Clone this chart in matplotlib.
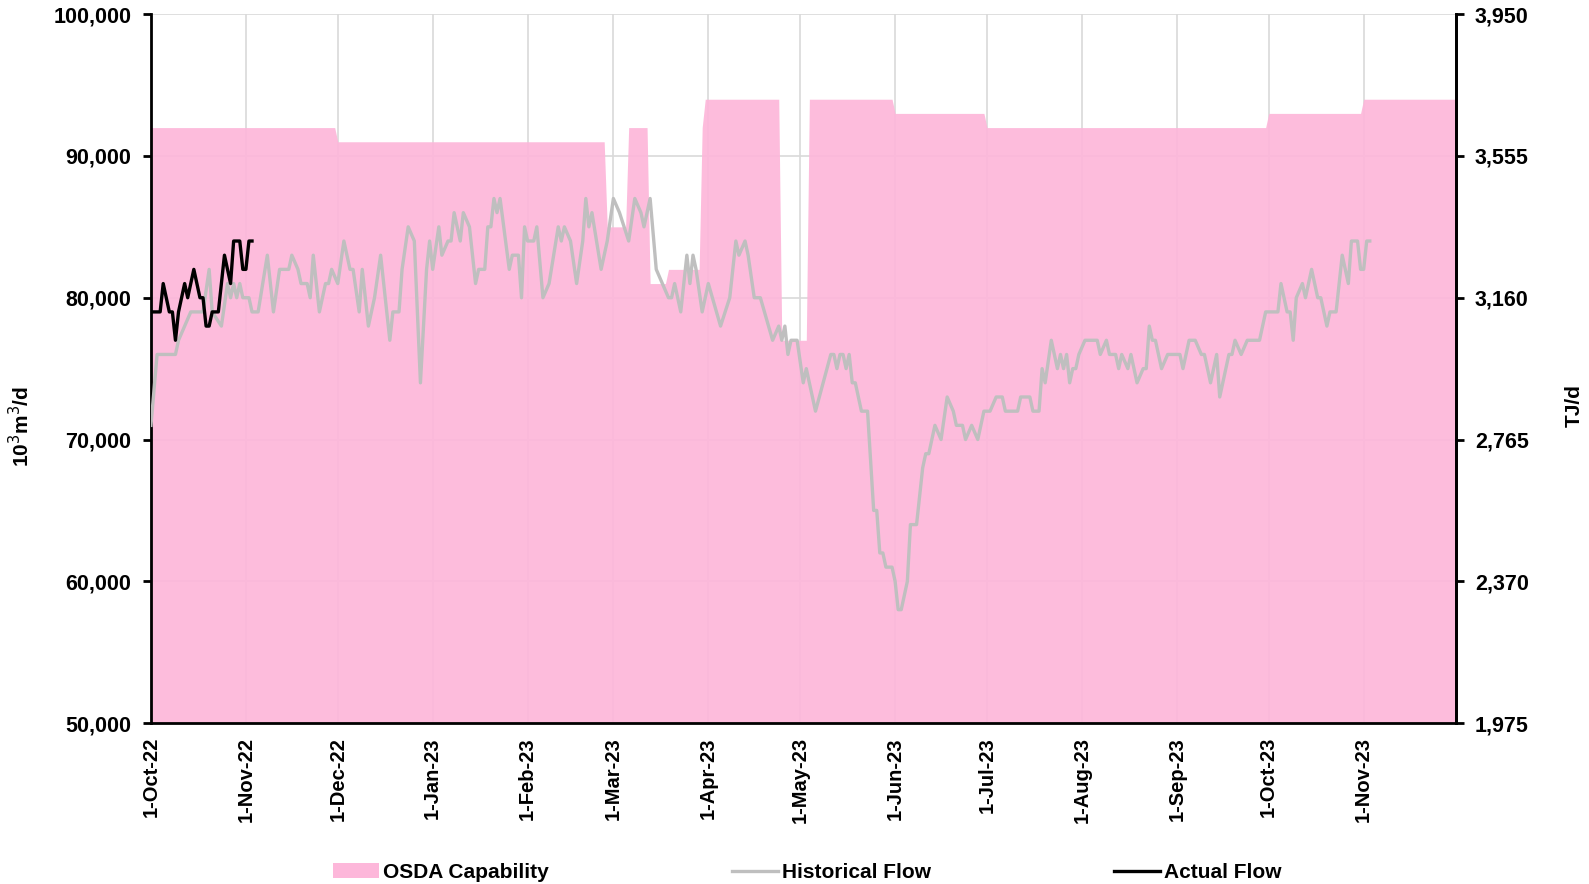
import numpy as np
import pandas as pd
import matplotlib
matplotlib.use("Agg")
import matplotlib.pyplot as plt
import matplotlib.dates as mdates
from matplotlib.ticker import FuncFormatter
from matplotlib.patches import Patch
from matplotlib.lines import Line2D

# day 0 = 1-Oct-22
start = pd.Timestamp("2022-10-01")
end = pd.Timestamp("2023-12-01")

# OSDA capability (10^3 m3/d), value holds from start day until next start day
cap_start_days = [0, 61, 149, 156, 163, 169, 180, 181, 206, 215, 243, 273, 365, 396]
cap_values = [92000, 91000, 85000, 92000, 81000, 82000, 92000, 94000, 77000,
              94000, 93000, 92000, 93000, 94000]

# historical flow, (day, 10^3 m3/d)
hist_oct_dec22 = [(0, 71000), (2, 76000), (8, 76000), (9, 77000), (11, 78000), (13, 79000),
                  (17, 79000), (19, 82000), (20, 79000), (23, 78000), (25, 81000), (26, 80000),
                  (27, 81000), (28, 80000), (29, 81000), (30, 80000), (32, 80000), (33, 79000),
                  (35, 79000), (38, 83000), (40, 79000), (42, 82000), (45, 82000), (46, 83000),
                  (48, 82000), (49, 81000), (51, 81000), (52, 80000), (53, 83000), (55, 79000),
                  (57, 81000), (58, 81000), (59, 82000), (61, 81000), (63, 84000), (65, 82000),
                  (66, 82000), (68, 79000), (69, 82000), (71, 78000), (73, 80000), (75, 83000),
                  (78, 77000), (79, 79000), (81, 79000), (82, 82000), (84, 85000), (86, 84000),
                  (88, 74000), (90, 82000), (91, 84000)]
hist_jan_mar23 = [(92, 82000), (94, 85000), (95, 83000), (97, 84000), (98, 84000), (99, 86000),
                  (101, 84000), (102, 86000), (104, 85000), (106, 81000), (107, 82000),
                  (109, 82000), (110, 85000), (111, 85000), (112, 87000), (113, 86000),
                  (114, 87000), (117, 82000), (118, 83000), (120, 83000), (121, 80000),
                  (122, 85000), (123, 84000), (125, 84000), (126, 85000), (128, 80000),
                  (130, 81000), (133, 85000), (134, 84000), (135, 85000), (137, 84000),
                  (139, 81000), (141, 84000), (142, 87000), (143, 85000), (144, 86000),
                  (147, 82000), (149, 84000), (151, 87000), (153, 86000), (156, 84000),
                  (158, 87000), (160, 86000), (161, 85000), (163, 87000), (165, 82000),
                  (167, 81000), (169, 80000), (170, 80000), (171, 81000), (173, 79000),
                  (175, 83000), (176, 81000), (177, 83000), (178, 82000), (180, 79000)]
hist_apr_jun23 = [(182, 81000), (186, 78000), (189, 80000), (191, 84000), (192, 83000),
                  (194, 84000), (195, 83000), (197, 80000), (199, 80000), (203, 77000),
                  (205, 78000), (206, 77000), (207, 78000), (208, 76000), (209, 77000),
                  (211, 77000), (213, 74000), (214, 75000), (217, 72000), (222, 76000),
                  (223, 76000), (224, 75000), (225, 76000), (226, 76000), (227, 75000),
                  (228, 76000), (229, 74000), (230, 74000), (232, 72000), (234, 72000),
                  (236, 65000), (237, 65000), (238, 62000), (239, 62000), (240, 61000),
                  (242, 61000), (243, 60000), (244, 58000), (245, 58000), (247, 60000),
                  (248, 64000), (250, 64000), (252, 68000), (253, 69000), (254, 69000),
                  (256, 71000), (258, 70000), (260, 73000), (262, 72000), (263, 71000),
                  (265, 71000), (266, 70000), (268, 71000), (270, 70000), (272, 72000)]
hist_jul_nov23 = [(274, 72000), (276, 73000), (278, 73000), (279, 72000), (283, 72000),
                  (284, 73000), (287, 73000), (288, 72000), (290, 72000), (291, 75000),
                  (292, 74000), (294, 77000), (296, 75000), (297, 76000), (298, 75000),
                  (299, 76000), (300, 74000), (301, 75000), (302, 75000), (303, 76000),
                  (305, 77000), (309, 77000), (310, 76000), (312, 77000), (313, 76000),
                  (315, 76000), (316, 75000), (317, 76000), (319, 75000), (320, 76000),
                  (322, 74000), (324, 75000), (325, 75000), (326, 78000), (327, 77000),
                  (328, 77000), (330, 75000), (332, 76000), (336, 76000), (337, 75000),
                  (339, 77000), (341, 77000), (343, 76000), (344, 76000), (345, 75000),
                  (346, 74000), (348, 76000), (349, 73000), (352, 76000), (353, 76000),
                  (354, 77000), (356, 76000), (358, 77000), (362, 77000), (364, 79000),
                  (368, 79000), (369, 81000), (371, 79000), (372, 79000), (373, 77000),
                  (374, 80000), (376, 81000), (377, 80000), (379, 82000), (381, 80000),
                  (382, 80000), (384, 78000), (385, 79000), (387, 79000), (389, 83000),
                  (391, 81000), (392, 84000), (394, 84000), (395, 82000), (396, 82000),
                  (397, 84000), (398, 84000)]

# actual flow
actual_days = [0, 3, 4, 5, 6, 7, 8, 9, 10, 11, 12, 14, 15, 16, 17, 18, 19, 20, 22, 24,
               26, 27, 29, 30, 31, 32, 33]
actual_flow = [79000, 79000, 81000, 80000, 79000, 79000, 77000, 79000, 80000, 81000, 80000,
               82000, 81000, 80000, 80000, 78000, 78000, 79000, 79000, 83000, 81000, 84000,
               84000, 82000, 82000, 84000, 84000]

left_ticks = [50000, 60000, 70000, 80000, 90000, 100000]
right_ticks = [1975, 2370, 2765, 3160, 3555, 3950]

PINK = "#FDB7DA"
GREY = "#BFBFBF"
GRID = "#D9D9D9"
FONT = ["Liberation Sans", "DejaVu Sans"]


def to_dates(days):
    return start + pd.to_timedelta(np.asarray(days), unit="D")


fig = plt.figure(figsize=(15.89, 8.84), dpi=100)
ax = fig.add_axes([0.095, 0.182, 0.821, 0.802])

# capability expanded to daily values
cap_days = np.arange(0, (end - start).days + 1)
idx = np.searchsorted(cap_start_days, cap_days, side="right") - 1
cap_daily = np.array(cap_values)[idx]
ax.fill_between(to_dates(cap_days), 50000, cap_daily, color=PINK, alpha=0.93,
                linewidth=0, zorder=2)

hist = hist_oct_dec22 + hist_jan_mar23 + hist_apr_jun23 + hist_jul_nov23
hd, hv = zip(*hist)
ax.plot(to_dates(hd), hv, color=GREY, lw=2.4, zorder=3, solid_joinstyle="round")
ax.plot(to_dates(actual_days), actual_flow, color="black", lw=2.4, zorder=4,
        solid_joinstyle="round")

ax.set_xlim(start, end)
ax.set_ylim(50000, 100000)
ax.set_yticks(left_ticks)
ax.yaxis.set_major_formatter(FuncFormatter(lambda v, p: f"{int(v):,}"))

months = pd.date_range("2022-10-01", "2023-11-01", freq="MS")
ax.set_xticks(months)
ax.xaxis.set_major_formatter(FuncFormatter(
    lambda v, p: f"{mdates.num2date(v).day}-{mdates.num2date(v).strftime('%b-%y')}"))

ax.grid(True, color=GRID, lw=1.2, zorder=0)
ax.set_axisbelow(True)

for s in ["left", "bottom", "right"]:
    ax.spines[s].set_linewidth(2)
    ax.spines[s].set_color("black")
ax.spines["top"].set_visible(False)

ax.tick_params(axis="y", direction="out", length=6, width=2, pad=8)
ax.tick_params(axis="x", length=0, pad=10)
for lab in ax.get_yticklabels():
    lab.set_family(FONT)
    lab.set_fontweight("bold")
    lab.set_fontsize(15.5)
for lab in ax.get_xticklabels():
    lab.set_family(FONT)
    lab.set_fontweight("bold")
    lab.set_fontsize(14.5)
    lab.set_rotation(90)
    lab.set_va("top")

ax2 = ax.twinx()
ax2.set_ylim(1975, 3950)
ax2.set_yticks(right_ticks)
ax2.yaxis.set_major_formatter(FuncFormatter(lambda v, p: f"{int(v):,}"))
ax2.tick_params(axis="y", direction="out", length=6, width=2, pad=8)
for s in ["top", "left", "bottom"]:
    ax2.spines[s].set_visible(False)
ax2.spines["right"].set_linewidth(2)
for lab in ax2.get_yticklabels():
    lab.set_family(FONT)
    lab.set_fontweight("bold")
    lab.set_fontsize(15.5)

fig.text(0.013, 0.518, "10$^3$m$^3$/d", rotation=90, ha="center", va="center",
         fontsize=15, fontweight="bold", family=FONT)
fig.text(0.991, 0.541, "TJ/d", rotation=90, ha="center", va="center",
         fontsize=15, fontweight="bold", family=FONT)

handles = [Patch(facecolor=PINK, edgecolor="none"),
           Line2D([], [], color=GREY, lw=2.4),
           Line2D([], [], color="black", lw=2.4)]
labels = ["OSDA Capability", "Historical Flow", "Actual Flow"]
fig.legend(handles, labels, loc="lower center", bbox_to_anchor=(0.508, -0.019), ncol=3,
           frameon=False, handlelength=2.2, handletextpad=0.2, columnspacing=8.8,
           prop={"family": FONT, "weight": "bold", "size": 15})

fig.savefig("out.png", dpi=100)
